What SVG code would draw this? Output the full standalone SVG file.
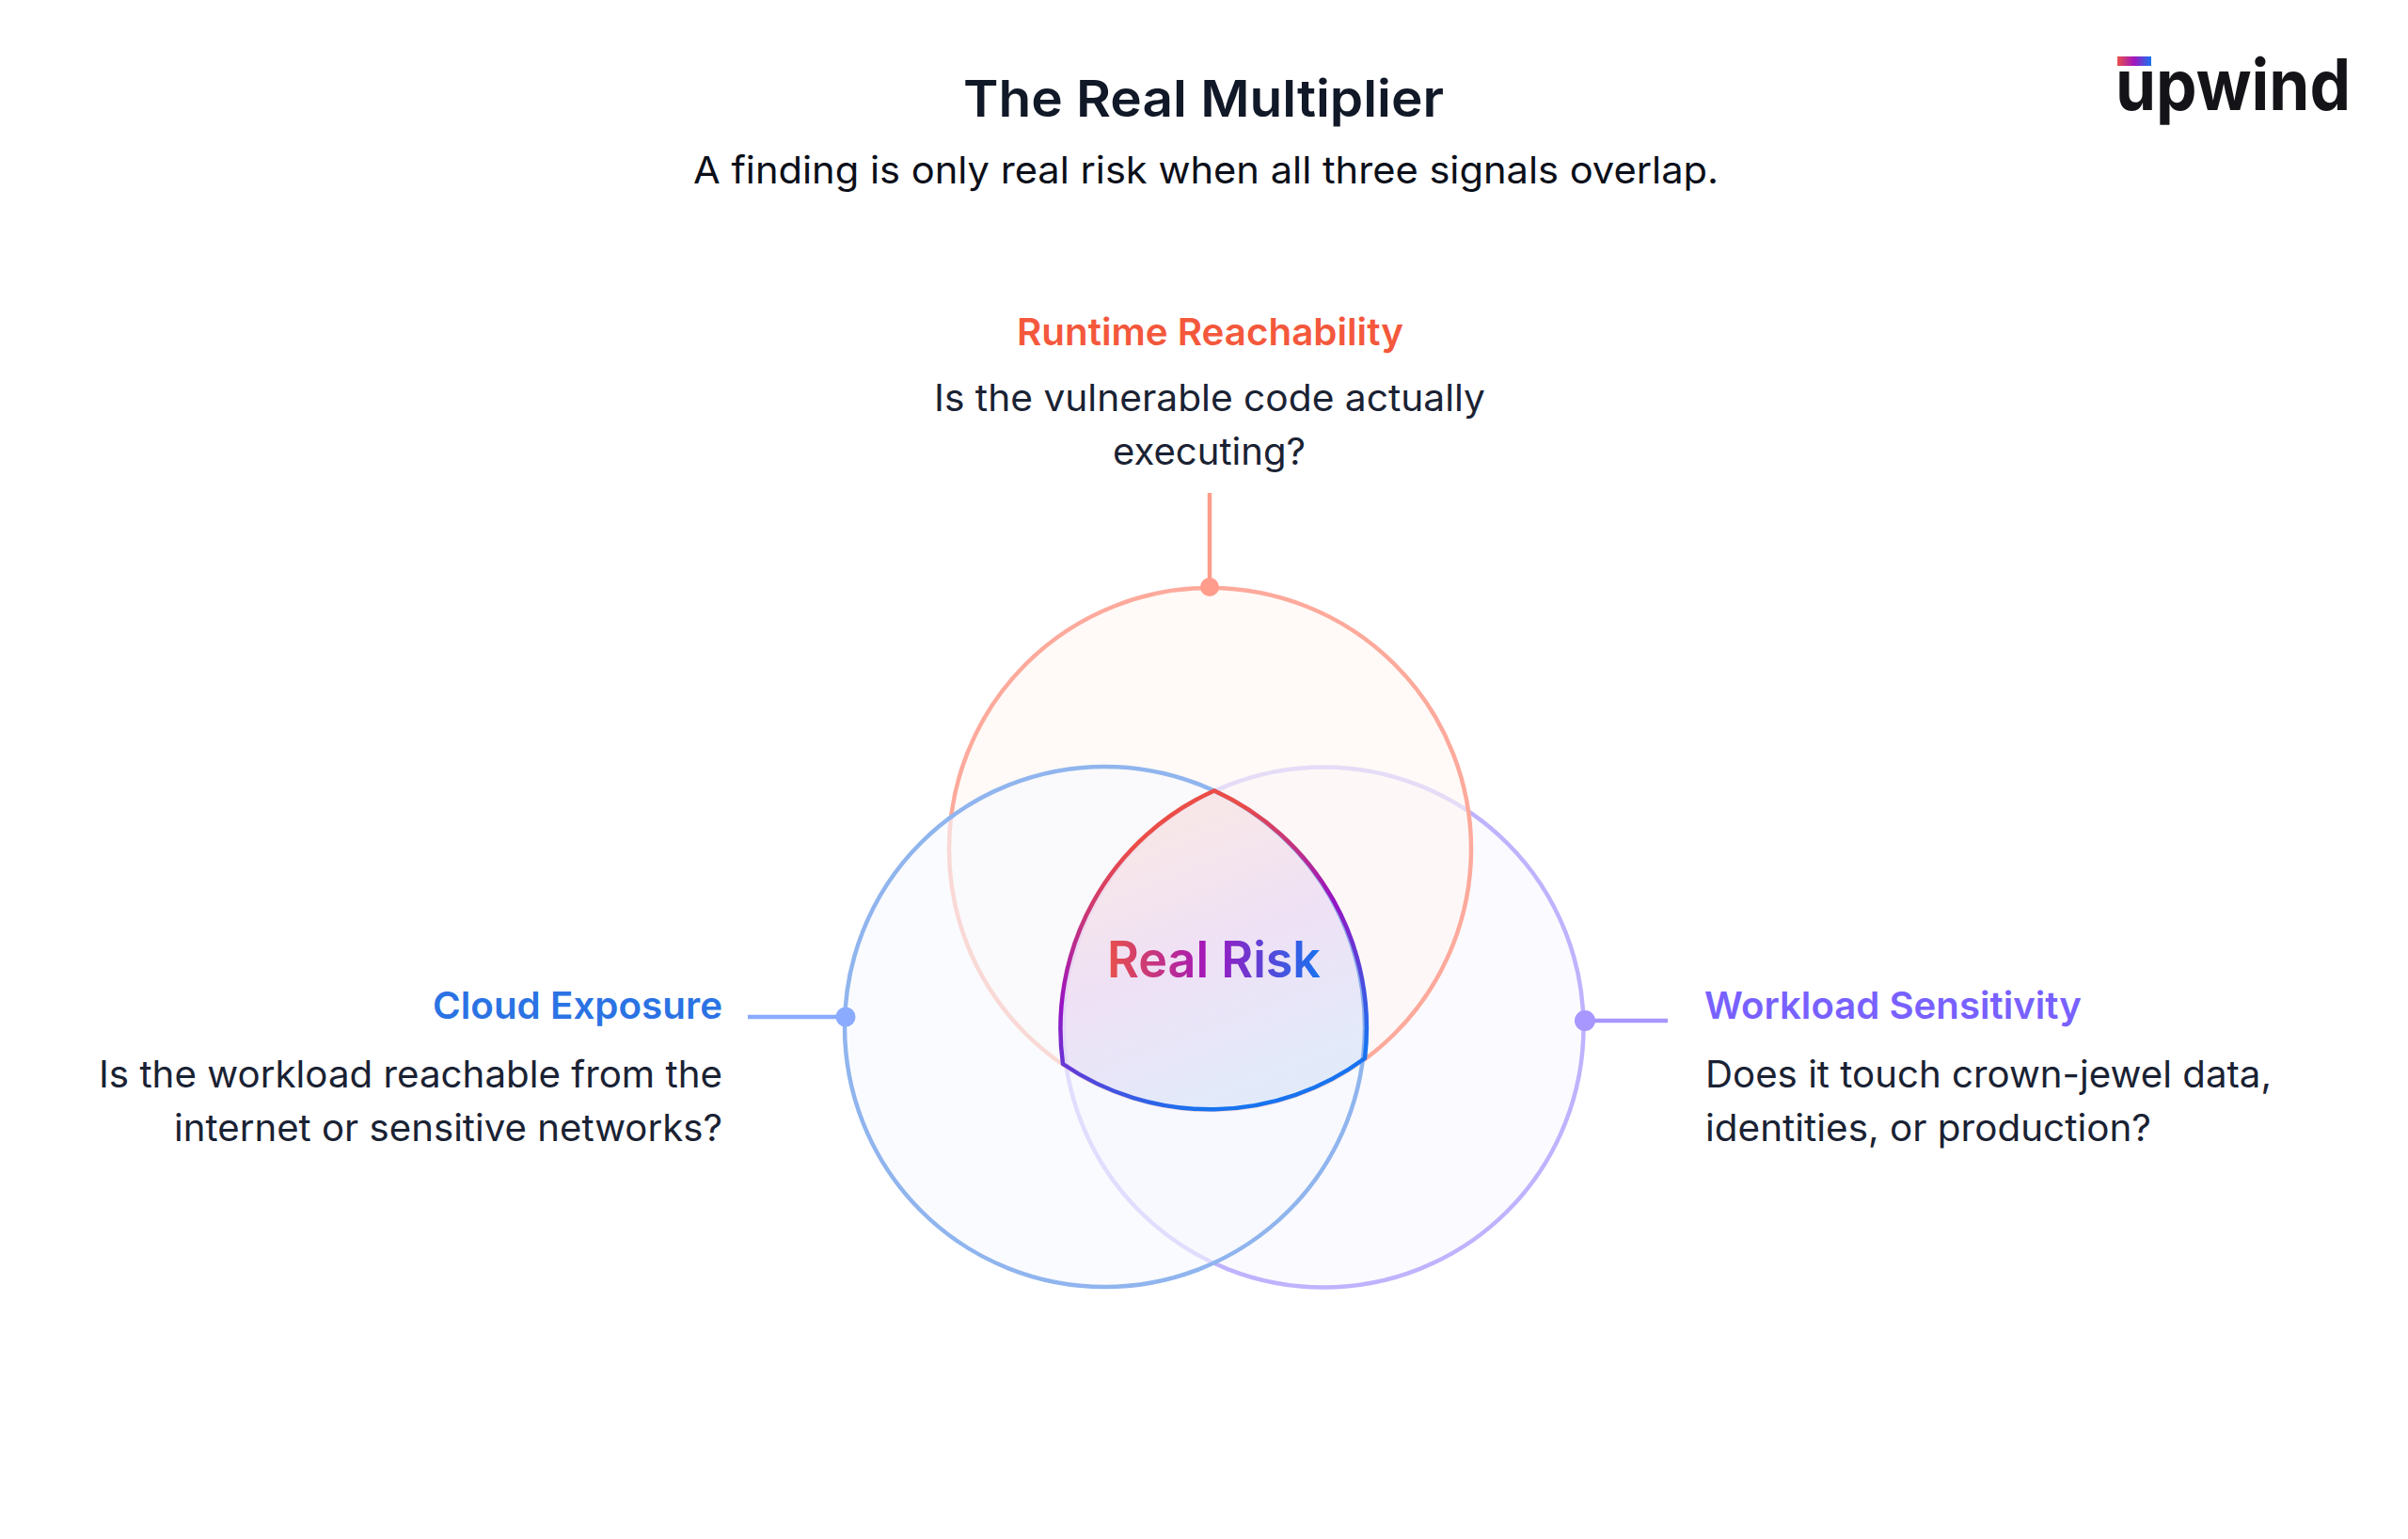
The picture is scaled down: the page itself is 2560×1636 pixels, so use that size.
<svg xmlns="http://www.w3.org/2000/svg" width="2560" height="1636" viewBox="0 0 2560 1636">
<style>
text{font-family:"Inter","Noto Sans","Liberation Sans",sans-serif}
.head{font-size:40px;font-weight:600}
.body{font-size:39px;font-weight:400;fill:#1A2233}
.top{stroke:#FDAA9C;fill:#FFF6F2;fill-opacity:.6;stroke-width:4.5}
.left{stroke:#90B5EE;fill:#F6F8FE;fill-opacity:.6;stroke-width:4.5}
.right{stroke:#BFB3FE;fill:#F9F6FF;fill-opacity:.6;stroke-width:4.5}
.lead{fill:none;stroke-width:4.5}
</style>
<defs>
<linearGradient id="riskStroke" gradientUnits="userSpaceOnUse" x1="1290" y1="840" x2="1402" y2="1131">
<stop offset="0.08" stop-color="#EB4D47"/><stop offset="0.5" stop-color="#9613C4"/><stop offset="1" stop-color="#1873F0"/>
</linearGradient>
<linearGradient id="riskText" gradientUnits="userSpaceOnUse" x1="1178" y1="0" x2="1404" y2="0">
<stop offset="0" stop-color="#E8504B"/><stop offset="0.48" stop-color="#A016BE"/><stop offset="1" stop-color="#1873F0"/>
</linearGradient>
<linearGradient id="logoBar" gradientUnits="userSpaceOnUse" x1="2251" y1="0" x2="2287" y2="0">
<stop offset="0" stop-color="#E8504B"/><stop offset="0.5" stop-color="#A016BE"/><stop offset="1" stop-color="#1873F0"/>
</linearGradient>
</defs>
<rect width="2560" height="1636" fill="#FFFFFF"/>
<g id="title">
<text x="1024" y="124" font-size="54" font-weight="600" fill="#111827" textLength="511" lengthAdjust="spacingAndGlyphs">The Real Multiplier</text>
<text x="737" y="195" font-size="40" font-weight="400" fill="#0B0F19" textLength="1090" lengthAdjust="spacingAndGlyphs">A finding is only real risk when all three signals overlap.</text>
</g>
<g id="logo">
<rect x="2251" y="60" width="36" height="10" fill="url(#logoBar)"/>
<text x="2249" y="117" font-size="75" font-weight="700" fill="#141418" textLength="250" lengthAdjust="spacingAndGlyphs">upwind</text>
</g>
<g id="venn">
<circle id="circle-workload" class="right" cx="1407" cy="1092" r="276.5"/>
<circle id="circle-runtime" class="top" cx="1286.5" cy="902.5" r="277.5"/>
<circle id="circle-cloud" class="left" cx="1174.5" cy="1091.5" r="276.5"/>
</g>
<g id="real-risk">
<path d="M1291 840.5A277 277 0 0 1 1451 1125A277 277 0 0 1 1130 1131A277 277 0 0 1 1291 840.5Z" fill="url(#riskStroke)" fill-opacity=".1" stroke="url(#riskStroke)" stroke-width="4.5" stroke-linejoin="round"/>
<text x="1177" y="1039" font-size="53" font-weight="600" fill="url(#riskText)" textLength="227" lengthAdjust="spacingAndGlyphs">Real Risk</text>
</g>
<g id="connectors">
<path class="lead" stroke="#FF9C8B" d="M1286 524V624"/>
<circle cx="1286" cy="624" r="10" fill="#FF9C8B"/>
<path class="lead" stroke="#8AABFF" d="M795 1081H899"/>
<circle cx="899" cy="1081" r="10.5" fill="#8AABFF"/>
<path class="lead" stroke="#A797FF" d="M1685 1085H1773"/>
<circle cx="1685" cy="1085" r="11" fill="#A797FF"/>
</g>
<g id="node-runtime">
<text class="head" x="1081" y="366.5" fill="#F4583C" textLength="411" lengthAdjust="spacingAndGlyphs">Runtime Reachability</text>
<text class="body" x="993" y="436.5" textLength="586" lengthAdjust="spacingAndGlyphs">Is the vulnerable code actually</text>
<text class="body" x="1183" y="493.5" textLength="205" lengthAdjust="spacingAndGlyphs">executing?</text>
</g>
<g id="node-cloud">
<text class="head" x="460" y="1082.5" fill="#2B73E4" textLength="308" lengthAdjust="spacingAndGlyphs">Cloud Exposure</text>
<text class="body" x="105" y="1156" textLength="663" lengthAdjust="spacingAndGlyphs">Is the workload reachable from the</text>
<text class="body" x="185" y="1213" textLength="583" lengthAdjust="spacingAndGlyphs">internet or sensitive networks?</text>
</g>
<g id="node-workload">
<text class="head" x="1812" y="1082.5" fill="#7861FF" textLength="401" lengthAdjust="spacingAndGlyphs">Workload Sensitivity</text>
<text class="body" x="1813" y="1156" textLength="602" lengthAdjust="spacingAndGlyphs">Does it touch crown-jewel data,</text>
<text class="body" x="1813" y="1213" textLength="474" lengthAdjust="spacingAndGlyphs">identities, or production?</text>
</g>
</svg>
